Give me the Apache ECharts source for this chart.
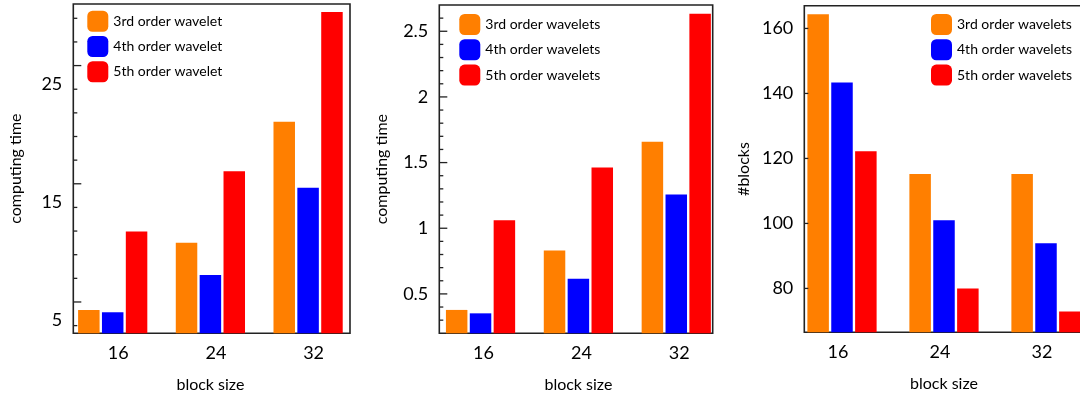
<!DOCTYPE html>
<html>
<head>
<meta charset="utf-8">
<script src="https://cdn.jsdelivr.net/npm/echarts@6/dist/echarts.min.js"></script>
<style>
  html, body { margin: 0; padding: 0; background: #ffffff; }
  #chart { width: 1080px; height: 400px; }
</style>
</head>
<body>
<div id="chart"></div>
<script>
// ---- data ----
const categories = ['16', '24', '32'];

const namesA = ['3rd order wavelet', '4th order wavelet', '5th order wavelet'];
const namesB = ['3rd order wavelets', '4th order wavelets', '5th order wavelets'];

// panel 1: computing time
const time1Third = [5.87, 11.56, 21.79];
const time1Fourth = [5.68, 8.83, 16.21];
const time1Fifth = [12.52, 17.62, 31.09];

// panel 2: computing time
const time2Third = [0.378, 0.831, 1.659];
const time2Fourth = [0.352, 0.615, 1.257];
const time2Fifth = [1.06, 1.463, 2.633];

// panel 3: #blocks
const blocksThird = [164.4, 115.2, 115.2];
const blocksFourth = [143.4, 101.0, 93.9];
const blocksFifth = [122.2, 80, 72.9];

// tick labels
const yLabels1 = [5, 15, 25];
const yLabels2 = [0.5, 1, 1.5, 2, 2.5];
const yLabels3 = [80, 100, 120, 140, 160];

// tick marks
const yMajorTicks1 = [6.55, 16.55, 26.55];
const yMinorTicks1 = [4.55, 8.55, 10.55, 12.55, 14.55, 18.55, 20.55, 22.55, 24.55, 28.55, 30.55];
const yMajorTicks2 = [0.5, 1, 1.5, 2, 2.5];
const yMinorTicks2 = [0.3, 0.4, 0.6, 0.7, 0.8, 0.9, 1.1, 1.2, 1.3, 1.4, 1.6, 1.7, 1.8, 1.9, 2.1, 2.2, 2.3, 2.4, 2.6];
const yMajorTicks3 = [80, 100, 120, 140, 160];

// ---- styling ----
const colors = ['#FF7F00', '#0000FF', '#FF0000'];
const FONT = 'Lato';
const TXT = '#000000';
const FRAME = '#222222';

const chart = echarts.init(document.getElementById('chart'), null, { renderer: 'canvas' });

function barGridX(idx, labelPad) {
  return {
    gridIndex: idx, type: 'category', data: categories,
    axisLine: { show: false }, axisTick: { show: false },
    axisLabel: { fontSize: 18, color: TXT, fontFamily: FONT, margin: 11, padding: labelPad },
    name: 'block size', nameLocation: 'middle', nameGap: 44,
    nameTextStyle: { fontSize: 16, color: TXT, fontFamily: FONT }
  };
}
function hiddenX(idx) { return { gridIndex: idx, type: 'value', min: 0, max: 1, show: false }; }
function hiddenY(idx, min, max) { return { gridIndex: idx, type: 'value', min: min, max: max, show: false }; }
function frameY(idx, min, max, labels, name, nameGap) {
  return {
    gridIndex: idx, type: 'value', position: 'left', min: min, max: max,
    axisLine: { show: false }, splitLine: { show: false }, axisTick: { show: false },
    axisLabel: { show: true, customValues: labels, fontSize: 18, color: TXT, fontFamily: FONT, margin: 11 },
    name: name, nameLocation: 'middle', nameGap: nameGap,
    nameTextStyle: { fontSize: 16, color: TXT, fontFamily: FONT }
  };
}
// tick marks drawn through the frame grid's own y scale
function tickSeries(axisIdx, values, len) {
  return {
    type: 'custom', xAxisIndex: axisIdx, yAxisIndex: axisIdx, silent: true, z: 5,
    data: values.map(function (v) { return [0, v]; }),
    renderItem: function (params, api) {
      const p = api.coord([0, api.value(1)]);
      const x0 = params.coordSys.x;
      return {
        type: 'line',
        shape: { x1: x0, y1: p[1], x2: x0 + len, y2: p[1] },
        style: { stroke: FRAME, lineWidth: 1.3 }
      };
    }
  };
}
function legend(names, left, top) {
  return {
    data: names, left: left, top: top, orient: 'vertical', padding: 0,
    itemWidth: 21, itemHeight: 21, itemGap: 4.3, icon: 'roundRect',
    textStyle: { fontSize: 14, color: TXT, fontFamily: FONT }
  };
}
function bar(name, data, xi, yi, c) {
  return {
    type: 'bar', name: name, data: data, xAxisIndex: xi, yAxisIndex: yi,
    barWidth: 21.5, barGap: '11%', itemStyle: { color: colors[c] }
  };
}

const base = { outerBoundsMode: 'none', containLabel: false };
const frame = { show: true, borderColor: FRAME, borderWidth: 1.6, backgroundColor: 'transparent' };

const option = {
  animation: false,
  backgroundColor: '#ffffff',
  textStyle: { fontFamily: FONT },
  grid: [
    Object.assign({ left: 63.85, top: 4, width: 293.1, height: 329.3 }, base),          // 0 bars panel 1
    Object.assign({ left: 73.3, top: 4, width: 276.7, height: 329.3 }, frame, base),    // 1 frame panel 1
    Object.assign({ left: 431.6, top: 5, width: 293.6, height: 328.3 }, base),          // 2 bars panel 2
    Object.assign({ left: 439.3, top: 5, width: 273.4, height: 328.3 }, frame, base),   // 3 frame panel 2
    Object.assign({ left: 791, top: 5.7, width: 306, height: 326.6 }, base),            // 4 bars panel 3
    Object.assign({ left: 804.3, top: 5.7, width: 290, height: 326.6 }, frame, base)    // 5 frame panel 3
  ],
  legend: [
    legend(namesA, 87.3, 10.7),
    legend(namesB, 459.3, 14),
    legend(namesB, 931, 14)
  ],
  xAxis: [
    barGridX(0, [0, 0, 0, 11]),
    hiddenX(1),
    barGridX(2, [0, 0, 0, 6]),
    hiddenX(3),
    barGridX(4, [0, 8, 0, 0]),
    hiddenX(5)
  ],
  yAxis: [
    hiddenY(0, 3.9, 31.76),
    frameY(1, 3.9, 31.76, yLabels1, 'computing time', 49),
    hiddenY(2, 0.2, 2.7),
    frameY(3, 0.2, 2.7, yLabels2, 'computing time', 49),
    hiddenY(4, 66.5, 167),
    frameY(5, 66.5, 167, yLabels3, '#blocks', 52)
  ],
  series: [
    bar(namesA[0], time1Third, 0, 0, 0),
    bar(namesA[1], time1Fourth, 0, 0, 1),
    bar(namesA[2], time1Fifth, 0, 0, 2),
    bar(namesB[0], time2Third, 2, 2, 0),
    bar(namesB[1], time2Fourth, 2, 2, 1),
    bar(namesB[2], time2Fifth, 2, 2, 2),
    bar(namesB[0], blocksThird, 4, 4, 0),
    bar(namesB[1], blocksFourth, 4, 4, 1),
    bar(namesB[2], blocksFifth, 4, 4, 2),
    tickSeries(1, yMajorTicks1, 8),
    tickSeries(1, yMinorTicks1, 4),
    tickSeries(3, yMajorTicks2, 8),
    tickSeries(3, yMinorTicks2, 4),
    tickSeries(5, yMajorTicks3, 4)
  ]
};

chart.setOption(option);
</script>
</body>
</html>
